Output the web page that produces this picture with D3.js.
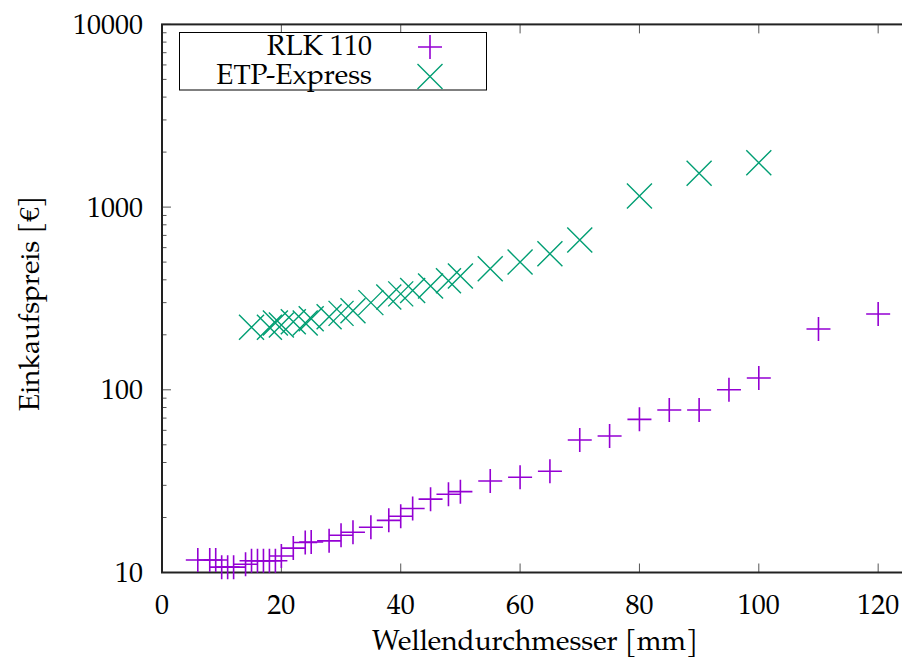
<!DOCTYPE html>
<html lang="de">
<head>
    <meta charset="UTF-8">
    <script src="https://d3js.org/d3.v7.min.js"></script>
    <title>Einkaufspreis</title>
    <style>
        body { margin: 0; background: #fff; }
        svg text { font-family: "TeX Gyre Pagella", "Palatino Linotype", "Liberation Serif", serif; fill: #000; }
    </style>
</head>
<body>
    <div class="fig"></div>
    <script>
        /*------------------- Data --------------------*/
        // RLK 110: shaft diameter [mm] and price [EUR]
        const rlkDiameter = [6, 8, 9, 10, 11, 12, 14, 15, 16, 17, 18, 19, 20, 22, 24, 25, 28, 30, 32, 35,
            38, 40, 42, 45, 48, 50, 55, 60, 65, 70, 75, 80, 85, 90, 95, 100, 110, 120];
        const rlkPrice = [11.7, 11.7, 11.7, 10.7, 10.7, 10.7, 11.1, 11.6, 11.6, 11.6, 11.6, 11.6, 12.3, 13.6, 14.6, 14.7, 14.9, 16.0, 16.6, 17.7,
            19.3, 20.3, 22.4, 25.2, 26.8, 27.7, 31.7, 33.2, 35.8, 53.1, 55.9, 68.9, 77.5, 77.5, 100, 116, 215, 260];

        // ETP-Express
        const etpDiameter = [15, 18, 19, 20, 22, 24, 25, 28, 30, 32, 35, 38, 40, 42, 45, 48, 50, 55, 60, 65, 70, 80, 90, 100];
        const etpPrice = [220, 220, 232, 226, 236, 232, 245, 251, 262, 271, 300, 322, 335, 350, 370, 395, 420, 460, 500, 555, 660, 1150, 1530, 1750];

        const xTicks = [0, 20, 40, 60, 80, 100, 120];
        const yTicks = [10, 100, 1000, 10000];
        const seriesNames = ["RLK 110", "ETP-Express"];

        /*------------------- Setup --------------------*/
        const width = 902, height = 660;
        const plot = { left: 162, right: 908, top: 24.4, bottom: 572.5 };
        const purple = "#9400d3", green = "#009e73";

        const svg = d3.select(".fig").append("svg")
            .attr("width", width)
            .attr("height", height);

        const x = d3.scaleLinear().domain([0, 125]).range([plot.left, plot.right]);
        const y = d3.scaleLog().domain([10, 10000]).range([plot.bottom, plot.top]);

        // minor ticks for the log axis
        const yMinor = [];
        [10, 100, 1000].forEach(d => { for (let k = 2; k <= 9; k++) yMinor.push(d * k); });

        const tickGroup = svg.append("g").attr("stroke", "#555").attr("stroke-width", 1);

        // x ticks, bottom and mirrored top (pointing inward)
        xTicks.forEach(t => {
            tickGroup.append("line").attr("x1", x(t)).attr("x2", x(t))
                .attr("y1", plot.bottom).attr("y2", plot.bottom - 9);
            tickGroup.append("line").attr("x1", x(t)).attr("x2", x(t))
                .attr("y1", plot.top).attr("y2", plot.top + 9);
        });
        // y ticks
        yTicks.forEach(t => {
            tickGroup.append("line").attr("x1", plot.left).attr("x2", plot.left + 9)
                .attr("y1", y(t)).attr("y2", y(t));
        });
        yMinor.forEach(t => {
            tickGroup.append("line").attr("x1", plot.left).attr("x2", plot.left + 4.5)
                .attr("y1", y(t)).attr("y2", y(t));
        });

        // frame
        svg.append("rect")
            .attr("x", plot.left).attr("y", plot.top)
            .attr("width", plot.right - plot.left).attr("height", plot.bottom - plot.top)
            .attr("fill", "none").attr("stroke", "#222").attr("stroke-width", 2);

        // tick labels
        svg.selectAll(".xlab").data(xTicks).enter().append("text")
            .attr("x", d => x(d)).attr("y", 613.5)
            .attr("text-anchor", "middle").attr("font-size", 28)
            .text(d => d);
        svg.selectAll(".ylab").data(yTicks).enter().append("text")
            .attr("x", 143).attr("y", d => y(d)).attr("dy", "0.34em")
            .attr("text-anchor", "end").attr("font-size", 28)
            .text(d => d);

        // axis titles
        svg.append("text")
            .attr("x", (plot.left + plot.right) / 2).attr("y", 650)
            .attr("text-anchor", "middle").attr("font-size", 28)
            .text("Wellendurchmesser [mm]");
        svg.append("text")
            .attr("transform", `translate(39,${(plot.top + plot.bottom) / 2 + 5}) rotate(-90)`)
            .attr("text-anchor", "middle").attr("font-size", 28)
            .text("Einkaufspreis [€]");

        /*------------------- Markers --------------------*/
        const plusPath = (cx, cy, r) => `M${cx - r},${cy}H${cx + r}M${cx},${cy - r}V${cy + r}`;
        const crossPath = (cx, cy, r) => `M${cx - r},${cy - r}L${cx + r},${cy + r}M${cx - r},${cy + r}L${cx + r},${cy - r}`;

        const rlk = rlkDiameter.map((d, i) => ({ d: d, p: rlkPrice[i] }));
        const etp = etpDiameter.map((d, i) => ({ d: d, p: etpPrice[i] }));

        svg.append("g").selectAll("path")
            .data(rlk).enter().append("path")
            .attr("d", d => plusPath(x(d.d), y(d.p), 12))
            .attr("stroke", purple).attr("stroke-width", 1.6).attr("fill", "none");

        svg.append("g").selectAll("path")
            .data(etp).enter().append("path")
            .attr("d", d => crossPath(x(d.d), y(d.p), 12.5))
            .attr("stroke", green).attr("stroke-width", 1.4).attr("fill", "none");

        /*------------------- Legend --------------------*/
        const legend = svg.append("g");
        legend.append("rect")
            .attr("x", 179.5).attr("y", 32.5).attr("width", 307).attr("height", 57.5)
            .attr("fill", "#fff").attr("stroke", "#000").attr("stroke-width", 1);
        legend.append("text").attr("x", 372).attr("y", 54.5)
            .attr("text-anchor", "end").attr("font-size", 28).text(seriesNames[0]);
        legend.append("text").attr("x", 372).attr("y", 83.5)
            .attr("text-anchor", "end").attr("font-size", 28).text(seriesNames[1]);
        legend.append("path").attr("d", plusPath(430, 47, 12))
            .attr("stroke", purple).attr("stroke-width", 1.6).attr("fill", "none");
        legend.append("path").attr("d", crossPath(430, 76.5, 12.5))
            .attr("stroke", green).attr("stroke-width", 1.4).attr("fill", "none");
    </script>
</body>
</html>
